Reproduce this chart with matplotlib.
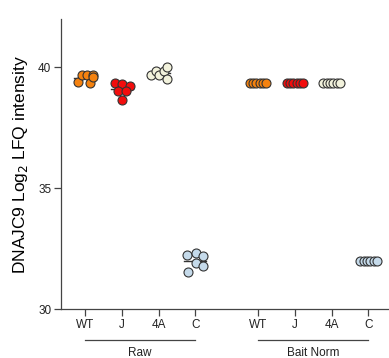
import matplotlib
matplotlib.use("Agg")
import matplotlib.pyplot as plt
import numpy as np

plt.rcParams['font.family'] = ['Liberation Sans', 'DejaVu Sans']

categories = ["WT", "J", "4A", "C", "WT", "J", "4A", "C"]
groups = ["Raw", "Bait Norm"]

raw_wt = [39.40, 39.70, 39.68, 39.70, 39.37, 39.60]
raw_j = [39.37, 39.29, 39.23, 39.02, 39.02, 38.64]
raw_4a = [39.67, 39.83, 39.70, 39.83, 40.01, 39.53]
raw_c = [32.23, 32.30, 32.19, 31.89, 31.78, 31.54]
norm_wt = [39.35] * 6
norm_j = [39.35] * 6
norm_4a = [39.35] * 6
norm_c = [32.0] * 6

series = [raw_wt, raw_j, raw_4a, raw_c, norm_wt, norm_j, norm_4a, norm_c]
colors = ["#F5820F", "#F20D0D", "#F2F2DC", "#C5DAEA"] * 2

positions = [0, 1, 2, 3, 4.7, 5.7, 6.7, 7.7]
jitter_raw = [
    [-0.18, -0.09, 0.05, 0.23, 0.14, 0.23],
    [-0.18, 0.02, 0.22, -0.10, 0.12, 0.00],
    [-0.20, -0.07, 0.01, 0.15, 0.22, 0.22],
    [-0.22, 0.02, 0.22, 0.02, 0.22, -0.19],
]
jitter_flat = [-0.22, -0.13, -0.04, 0.05, 0.14, 0.23]

fig = plt.figure(figsize=(3.89, 3.58), dpi=100)
ax = fig.add_axes([61/389, 1 - 309/358, (389-61)/389, (309-19)/358])

for i, vals in enumerate(series):
    offs = jitter_raw[i] if i < 4 else jitter_flat
    x = [positions[i] + o for o in offs]
    m = np.mean(vals)
    ax.plot([positions[i] - 0.3, positions[i] + 0.3], [m, m], color="#333333", lw=1.0, zorder=1)
    ax.scatter(x, vals, s=42, color=colors[i], edgecolor="#333333", linewidth=0.8, zorder=2)

ax.set_xlim(-0.65, 8.26)
ax.set_ylim(30, 42)
ax.set_yticks([30, 35, 40])
ax.set_yticklabels(["30", "35", "40"], fontsize=8.5, color="#222222")
ax.set_xticks(positions)
ax.set_xticklabels(categories, fontsize=8.5, color="#222222")
ax.tick_params(axis='both', length=5, width=0.9, color="#444444", pad=2)
for s in ["top", "right"]:
    ax.spines[s].set_visible(False)
for s in ["left", "bottom"]:
    ax.spines[s].set_linewidth(0.9)
    ax.spines[s].set_color("#444444")
ax.set_ylabel("DNAJC9 Log$_2$ LFQ intensity", fontsize=12.5, labelpad=6)

# group annotations
for g, (a, b) in zip(groups, [(positions[0], positions[3]), (positions[4], positions[7])]):
    ax.annotate("", xy=(a, 0), xycoords=("data", "axes fraction"))
    ax.plot([a, b], [-0.107, -0.107], transform=ax.get_xaxis_transform(), color="#444444",
            lw=0.9, clip_on=False)
    ax.text((a + b) / 2, -0.13, g, transform=ax.get_xaxis_transform(), ha="center", va="top",
            fontsize=8.5, color="#222222")

fig.savefig("out.png", dpi=100)
